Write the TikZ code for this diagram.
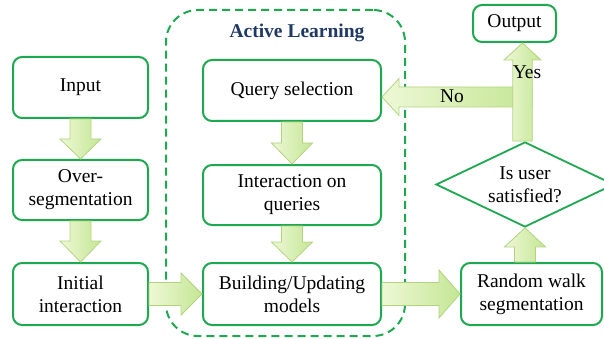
\documentclass[tikz,border=0pt]{standalone}
\usepackage{fontspec}
\setmainfont{Liberation Serif}
\usetikzlibrary{shapes.geometric,calc}
\definecolor{boxgreen}{RGB}{30,168,80}
\definecolor{arrowline}{RGB}{178,212,128}
\definecolor{arrowA}{RGB}{238,248,214}
\definecolor{arrowB}{RGB}{196,230,148}
\definecolor{titleblue}{RGB}{31,56,100}
\tikzset{
  txt/.style={font=\fontsize{19.5}{23}\selectfont, align=center},
  stepbox/.style={txt, draw=boxgreen, line width=2pt, rounded corners=9pt, fill=white, inner sep=0pt},
  decision/.style={txt, diamond, draw=boxgreen, line width=1.8pt, fill=white, inner sep=0pt, shape aspect=2, minimum width=178pt, minimum height=85pt},
  frame/.style={draw=boxgreen, line width=2pt, dash pattern=on 8pt off 5pt, rounded corners=32pt, inner sep=0pt},
  blockarrow/.style={draw=arrowline, line width=0.8pt, left color=arrowA, right color=arrowB},
  lbl/.style={txt, inner sep=0pt},
  ttl/.style={font=\fontsize{19.5}{23}\selectfont\bfseries, text=titleblue, inner sep=0pt}
}
% block arrow: from, to, shaft half width, head half width, head length (pt)
\newcommand\blockarr[5]{%
  \coordinate (ba-h) at ($(#2)!#5pt!(#1)$);
  \path[blockarrow] ($(#1)!#3pt!90:(#2)$) -- ($(ba-h)!#3pt!90:(#2)$) -- ($(ba-h)!#4pt!90:(#2)$) -- (#2)
    -- ($(ba-h)!#4pt!-90:(#2)$) -- ($(ba-h)!#3pt!-90:(#2)$) -- ($(#1)!#3pt!-90:(#2)$) -- cycle;}
\begin{document}
\begin{tikzpicture}[x=1pt,y=-1pt]
\useasboundingbox (0,0) rectangle (604,339);
% active learning frame
\node[frame, minimum width=239pt, minimum height=326pt] (alframe) at (285.5,173) {};
\node[ttl] (altitle) at (297,33) {Active Learning};
% left column
\node[stepbox, minimum width=135pt, minimum height=61pt] (inp) at (80.5,87.5) {Input};
\node[stepbox, minimum width=135pt, minimum height=60pt] (ovs) at (80.5,190) {Over-\\segmentation};
\node[stepbox, minimum width=135pt, minimum height=62pt] (ini) at (80.5,294) {Initial\\interaction};
% middle column
\node[stepbox, minimum width=178pt, minimum height=61pt] (qs) at (292,90.5) {Query selection};
\node[stepbox, minimum width=178pt, minimum height=60pt] (iq) at (292,195) {Interaction on\\queries};
\node[stepbox, minimum width=178pt, minimum height=62pt] (bu) at (292,294) {Building/Updating\\models};
% right column
\node[stepbox, minimum width=83pt, minimum height=37pt] (out) at (514.5,23.5) {Output};
\node[decision] (sat) at (525,184.5) {Is user\\satisfied?};
\node[stepbox, minimum width=141pt, minimum height=62pt] (rw) at (531.5,294) {Random walk\\segmentation};
% connectors
\blockarr{inp.south}{ovs.north}{10.5}{20.5}{20}
\blockarr{ovs.south}{ini.north}{10.5}{20.5}{21}
\blockarr{qs.south}{iq.north}{10.5}{20.5}{21}
\blockarr{iq.south}{bu.north}{10.5}{20.5}{20}
\blockarr{ini.east}{bu.west}{11.5}{21}{21}
\blockarr{bu.east}{rw.west}{11.5}{24}{21}
\coordinate (rwtop) at (sat.south |- rw.north);
\blockarr{rwtop}{sat.south}{10.5}{20.5}{19}
\coordinate (nojoin) at (532,97);
\coordinate (noend) at (qs.east |- nojoin);
\blockarr{nojoin}{noend}{10}{18.5}{17}
\coordinate (yesbase) at ([xshift=-2.5pt]sat.north);
\coordinate (yesend) at (yesbase |- out.south);
\blockarr{yesbase}{yesend}{9.75}{18.5}{17}
\node[lbl] (nolbl) at (452,96) {No};
\node[lbl] (yeslbl) at (527,72) {Yes};
\end{tikzpicture}
\end{document}
